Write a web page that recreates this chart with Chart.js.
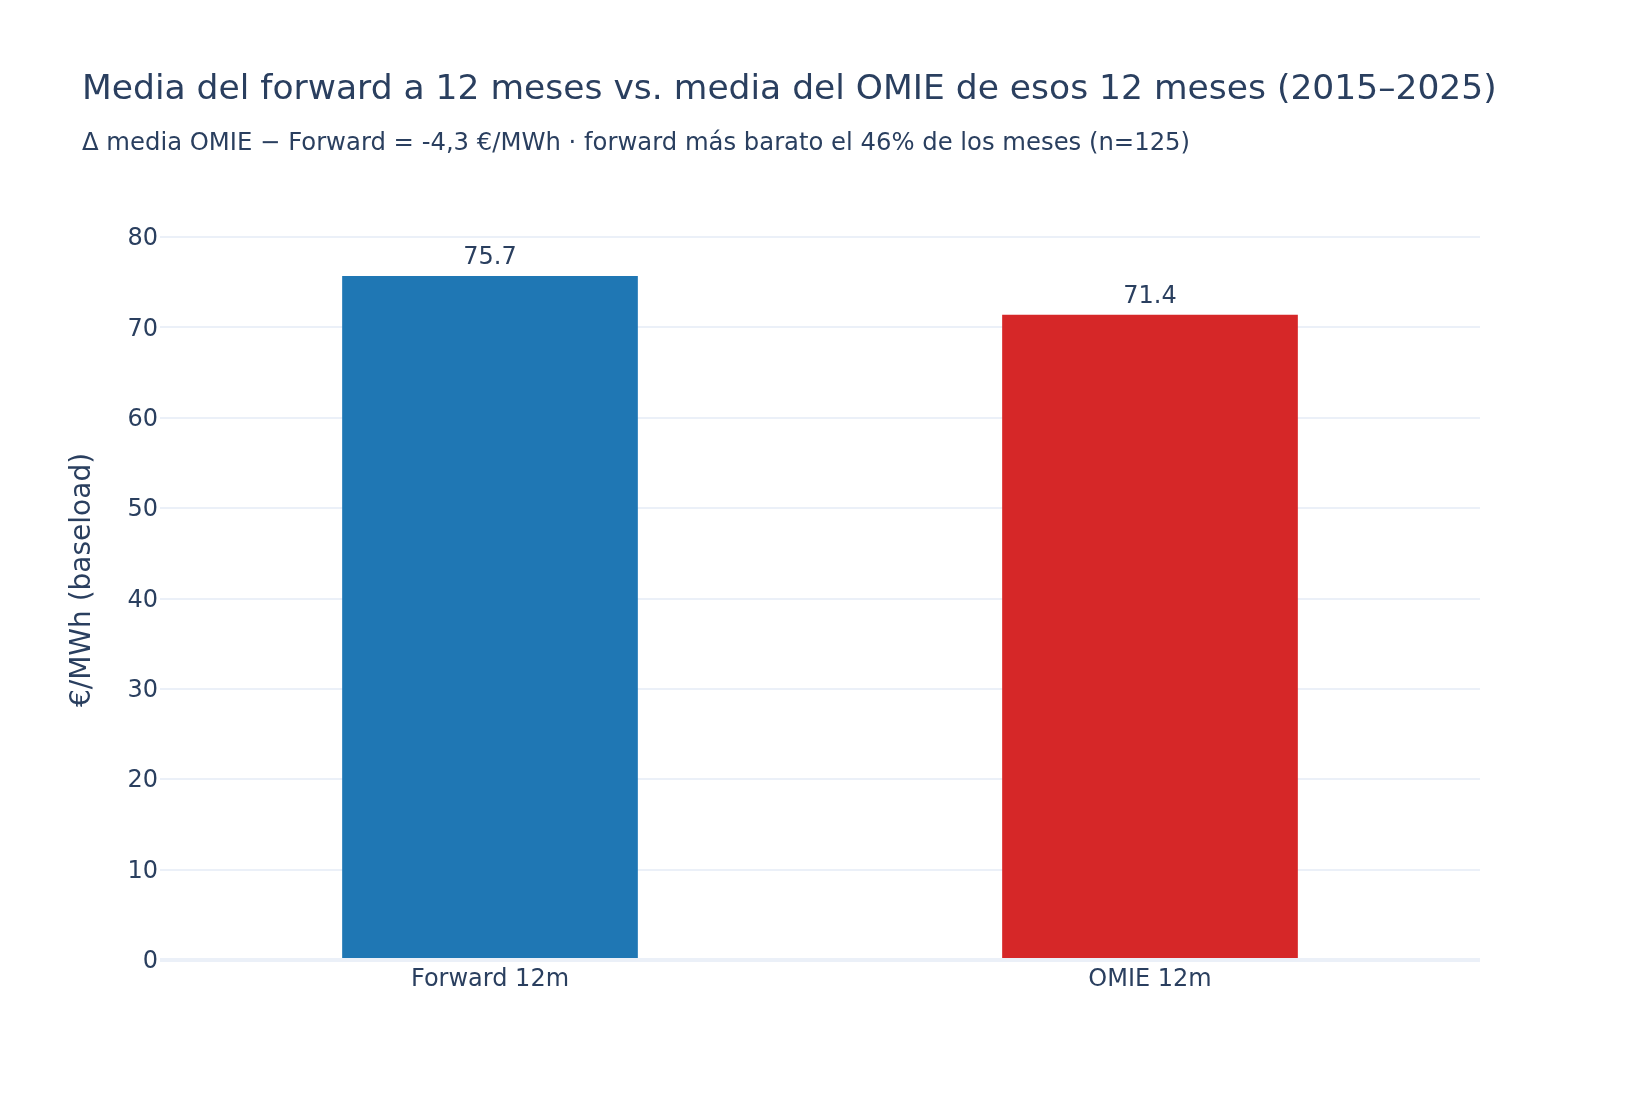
<!DOCTYPE html>
<html>
<head>
<meta charset="utf-8">
<script src="https://cdn.jsdelivr.net/npm/chart.js@4.4.1/dist/chart.umd.min.js"></script>
<style>
  html, body { margin: 0; padding: 0; background: #fff; }
  #wrap { width: 1640px; height: 1120px; position: relative; }
</style>
</head>
<body>
<div id="wrap"><canvas id="chart" width="1640" height="1120"></canvas></div>
<script>
const categories = ['Forward 12m', 'OMIE 12m'];
const values = [75.7, 71.4];
const barColors = ['#1f77b4', '#d62728'];
const yTicks = [0, 10, 20, 30, 40, 50, 60, 70, 80];

const titleText = 'Media del forward a 12 meses vs. media del OMIE de esos 12 meses (2015–2025)';
const subtitleText = 'Δ media OMIE − Forward = -4,3 €/MWh · forward más barato el 46% de los meses (n=125)';

const FONT = '"DejaVu Sans", verdana, sans-serif';
const TEXT = '#2a3f5f';
const GRID = '#ebf0f8';

// titles drawn at fixed spots, bar values above each bar
const textPlugin = {
  id: 'texts',
  afterDatasetsDraw(chart) {
    const ctx = chart.ctx;
    ctx.save();
    ctx.fillStyle = TEXT;
    ctx.textAlign = 'left';
    ctx.textBaseline = 'alphabetic';
    ctx.font = '34.5px ' + FONT;
    ctx.fillText(titleText, 82, 99);
    ctx.font = '24.3px ' + FONT;
    ctx.fillText(subtitleText, 82, 150);

    ctx.textAlign = 'center';
    ctx.font = '24px ' + FONT;
    const meta = chart.getDatasetMeta(0);
    meta.data.forEach((bar, i) => {
      ctx.fillText(values[i].toFixed(1), bar.x, bar.y - 12);
    });
    ctx.restore();
  }
};

new Chart(document.getElementById('chart'), {
  type: 'bar',
  data: {
    labels: categories,
    datasets: [{
      data: values,
      backgroundColor: barColors,
      borderWidth: 0,
      categoryPercentage: 1,
      barPercentage: 0.448
    }]
  },
  options: {
    responsive: false,
    animation: false,
    layout: { padding: { top: 200, right: 160, bottom: 90, left: 0 } },
    plugins: {
      legend: { display: false },
      tooltip: { enabled: false }
    },
    scales: {
      x: {
        grid: { display: false },
        border: { display: false },
        ticks: { color: TEXT, font: { family: FONT, size: 24 }, padding: -3 },
        afterFit(scale) { scale.height = 70; }
      },
      y: {
        min: 0,
        max: 84.1,
        border: { display: false },
        grid: {
          color: GRID,
          drawTicks: false,
          lineWidth: (c) => (c.tick && c.tick.value === 0 ? 4 : 2)
        },
        ticks: {
          stepSize: 10,
          includeBounds: false,
          color: TEXT,
          font: { family: FONT, size: 24 },
          padding: 2,
          labelOffset: 2
        },
        afterBuildTicks(scale) { scale.ticks = yTicks.map(v => ({ value: v })); },
        afterFit(scale) { scale.width = 160; },
        title: {
          display: true,
          text: '€/MWh (baseload)',
          color: TEXT,
          font: { family: FONT, size: 28 },
          padding: { top: 66, bottom: 0 }
        }
      }
    }
  },
  plugins: [textPlugin]
});
</script>
</body>
</html>
